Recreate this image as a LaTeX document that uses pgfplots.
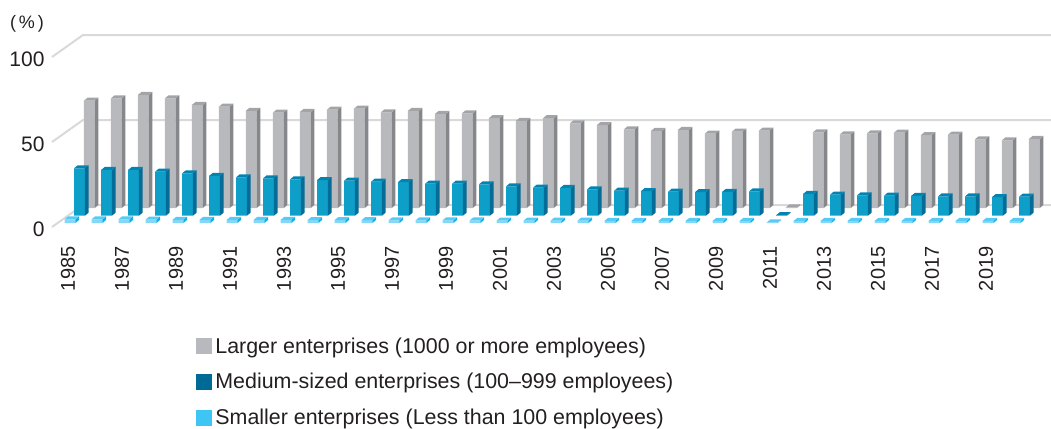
\documentclass[border=0pt]{standalone}
\usepackage{fontspec}
\setmainfont{Liberation Sans}
\usepackage{pgfplots}
\usepackage{pgfplotstable}
\pgfplotsset{compat=1.18}

\definecolor{txt}{HTML}{231F20}
\definecolor{gridc}{HTML}{D9D9D9}
\definecolor{lgFront}{HTML}{B8B9BD}
\definecolor{lgSide}{HTML}{86878B}
\definecolor{lgTop}{HTML}{A3A4A8}
\definecolor{mdFront}{HTML}{0E9FC9}
\definecolor{mdSide}{HTML}{046C96}
\definecolor{mdTop}{HTML}{0284B2}
\definecolor{smFront}{HTML}{84D7F7}
\definecolor{smSide}{HTML}{12AEEA}
\definecolor{smTop}{HTML}{55CBF5}
\definecolor{lgKey}{HTML}{B8B9BE}
\definecolor{mdKey}{HTML}{006A97}
\definecolor{smKey}{HTML}{3EC5F4}

\pgfplotstableread{
year large medium small
1985 63.1 27.9 2.2
1986 64.5 26.9 2.2
1987 66.5 26.9 2.2
1988 64.5 25.9 2.0
1989 60.6 24.9 1.9
1990 59.6 23.4 1.9
1991 57.2 22.6 1.8
1992 56.1 22.0 1.8
1993 56.5 21.4 1.8
1994 57.8 21.0 1.7
1995 58.4 20.6 1.7
1996 56.3 20.0 1.7
1997 57.1 19.8 1.6
1998 55.3 18.8 1.6
1999 55.7 18.8 1.6
2000 52.9 18.5 1.5
2001 51.2 17.3 1.4
2002 52.8 16.5 1.4
2003 49.8 16.3 1.4
2004 48.8 15.5 1.4
2005 46.3 14.7 1.3
2006 45.3 14.5 1.3
2007 45.9 14.1 1.3
2008 43.8 13.9 1.2
2009 44.9 14.0 1.2
2010 45.5 14.3 1.2
2011 0.4 0.3 0.3
2012 44.5 12.8 1.2
2013 43.3 12.4 1.2
2014 43.9 12.0 1.2
2015 44.3 11.8 1.2
2016 42.9 11.6 1.2
2017 43.1 11.4 1.2
2018 40.4 11.4 1.2
2019 39.8 11.0 1.2
2020 40.6 11.2 1.2
}\shareData

\newdimen\faceh
\newdimen\facebase

% Side and top faces of a bar, drawn around the data point at the top of its front face
\pgfdeclareplotmark{barfaces}{%
  \faceh=\rawv pt \faceh=1.7\faceh
  \facebase=3pt \advance\facebase by -\faceh
  \pgfsetfillcolor{\sidecol}%
  \pgfpathmoveto{\pgfqpoint{5.4pt}{0pt}}%
  \pgfpathlineto{\pgfqpoint{9pt}{3pt}}%
  \pgfpathlineto{\pgfqpoint{9pt}{\facebase}}%
  \pgfpathlineto{\pgfqpoint{5.4pt}{-\faceh}}%
  \pgfpathclose\pgfusepath{fill}%
  \pgfsetfillcolor{\topcol}%
  \pgfpathmoveto{\pgfqpoint{-5.4pt}{0pt}}%
  \pgfpathlineto{\pgfqpoint{5.4pt}{0pt}}%
  \pgfpathlineto{\pgfqpoint{9pt}{3pt}}%
  \pgfpathlineto{\pgfqpoint{-1.8pt}{3pt}}%
  \pgfpathclose\pgfusepath{fill}%
}

% One row of bars: column, x offset, y offset, front, side and top colours
\newcommand{\barrow}[6]{%
  \addplot[ybar, bar width=10.8pt, bar shift=0pt, draw=none, fill=#4,
    xshift=#2, yshift=#3, forget plot] table[x=year, y=#1] {\shareData};
  \addplot[only marks, scatter, mark=barfaces, xshift=#2, yshift=#3, forget plot,
    visualization depends on={rawy \as \rawv},
    visualization depends on={value #5 \as \sidecol},
    visualization depends on={value #6 \as \topcol},
    scatter/@pre marker code/.code={\scope},
    scatter/@post marker code/.code={\endscope}]
    table[x=year, y=#1] {\shareData};
}

\begin{document}
\begin{tikzpicture}
\path[use as bounding box] (-52pt,-201pt) rectangle (999pt,227pt);
\begin{axis}[
  at={(0pt,0pt)}, anchor=south west,
  scale only axis, width=969pt, height=170pt,
  xmin=1984.333, xmax=2020.222,
  ymin=0, ymax=100,
  clip=false,
  axis line style={draw=none},
  tick style={draw=none},
  xtick={1985,1987,...,2019},
  ytick={0,50,100},
  /pgf/number format/assume math mode=true,
  /pgf/number format/1000 sep={},
  xticklabel style={rotate=90, anchor=east, xshift=-16pt, yshift=2pt,
    font=\fontsize{20}{24}\selectfont, text=txt},
  yticklabel style={anchor=east, xshift=-4pt, yshift=-2pt,
    font=\fontsize{21}{24}\selectfont, text=txt},
  legend cell align=left,
  legend style={at={(144pt,-108.5pt)}, anchor=north west, draw=none, fill=none,
    inner sep=0pt, outer sep=0pt, row sep=14.7pt,
    font=\fontsize{21.4}{25}\selectfont, text=txt},
]
% Back wall and the slanted floor and side edges
\pgfplotsinvokeforeach{0,50,100}{
  \draw[gridc, line width=2pt]
    (axis cs:1984.333,#1) -- ++(31pt,22pt) -- ++(1000pt,0pt);
}

\barrow{large}{19.3pt}{19pt}{lgFront}{lgSide}{lgTop}
\barrow{medium}{9.5pt}{11.3pt}{mdFront}{mdSide}{mdTop}
\barrow{small}{0pt}{4pt}{smFront}{smSide}{smTop}

\addlegendimage{legend image code/.code={\fill[lgKey] (0pt,-7.5pt) rectangle (15pt,7.5pt);}}
\addlegendentry{\kern2pt Larger enterprises (1000 or more employees)}
\addlegendimage{legend image code/.code={\fill[mdKey] (0pt,-7.5pt) rectangle (15pt,7.5pt);}}
\addlegendentry{\kern2pt Medium-sized enterprises (100–999 employees)}
\addlegendimage{legend image code/.code={\fill[smKey] (0pt,-7.5pt) rectangle (15pt,7.5pt);}}
\addlegendentry{\kern2pt Smaller enterprises (Less than 100 employees)}

\node[text=txt, font=\fontsize{18}{22}\selectfont, anchor=center, xshift=-25pt, yshift=33pt]
  at (axis cs:1984.333,100) {(\kern3pt\%\kern3pt)};
\end{axis}
\end{tikzpicture}
\end{document}
